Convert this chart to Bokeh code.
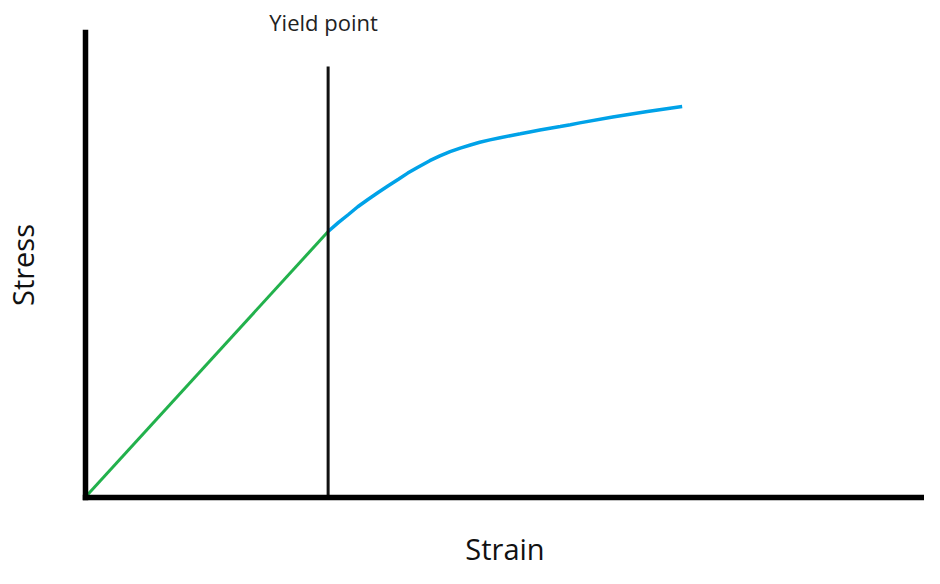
from bokeh.plotting import figure
from bokeh.models import Range1d, FixedTicker, Label
from bokeh.embed import file_html
from bokeh.resources import INLINE

# Elastic (linear) region
elastic_strain = [0.0, 2.87]
elastic_stress = [0.0, 57.2]

# Plastic region (after yield)
plastic_strain = [2.87, 2.99, 3.11, 3.22, 3.34, 3.46, 3.58, 3.70, 3.81, 3.93,
                  4.07, 4.19, 4.31, 4.43, 4.55, 4.66, 4.78, 4.90, 5.02, 5.14,
                  5.25, 5.37, 5.49, 5.61, 5.73, 5.84, 6.23, 6.64, 7.05]
plastic_stress = [57.2, 59.1, 60.86, 62.52, 64.09, 65.59, 67.03, 68.43, 69.76, 71.03,
                  72.43, 73.46, 74.37, 75.14, 75.81, 76.39, 76.9, 77.38, 77.81, 78.22,
                  78.62, 79.01, 79.4, 79.78, 80.17, 80.56, 81.83, 83.03, 84.09]

# Yield point marker line
yield_x = [2.87, 2.87]
yield_y = [0.0, 92.7]
yield_label = "Yield point"
x_title = "Strain"
y_title = "Stress"
stress_axis_top = 100.0
strain_axis_end = 10.23

FONT = "Open Sans"

p = figure(width=924, height=568, output_backend="svg", toolbar_location=None,
           x_range=Range1d(-0.998, 9.911), y_range=Range1d(-15.27, 106.88),
           min_border=0)
p.outline_line_color = None
p.xgrid.visible = False
p.ygrid.visible = False
p.background_fill_color = "white"
p.border_fill_color = "white"

for ax in (p.xaxis, p.yaxis):
    ax.fixed_location = 0
    ax.ticker = FixedTicker(ticks=[])
    ax.axis_line_width = 5.5
    ax.axis_line_color = "black"
    ax.axis_line_cap = "square"
    ax.major_tick_line_color = None
    ax.minor_tick_line_color = None
    ax.major_label_text_font_size = "0px"
    ax.axis_label_text_font = FONT
    ax.axis_label_text_font_style = "normal"
    ax.axis_label_text_color = "#111111"
    ax.axis_label_text_font_size = "29px"

p.xaxis.bounds = (0, strain_axis_end)
p.yaxis.bounds = (0, stress_axis_top)
p.xaxis.axis_label = x_title
p.yaxis.axis_label = y_title
p.xaxis.axis_label_standoff = 31
p.yaxis.axis_label_standoff = 44

p.line(elastic_strain, elastic_stress, line_color="#22b14c", line_width=3)
p.line(plastic_strain, plastic_stress, line_color="#00a2e8", line_width=3.5)
p.line(yield_x, yield_y, line_color="#111111", line_width=3)

p.add_layout(Label(x=2.816, y=102.15, text=yield_label,
                   text_font=FONT, text_font_size="22px", text_color="#222222",
                   text_align="center", text_baseline="middle"))

open("out.html", "w").write(file_html(p, INLINE))
